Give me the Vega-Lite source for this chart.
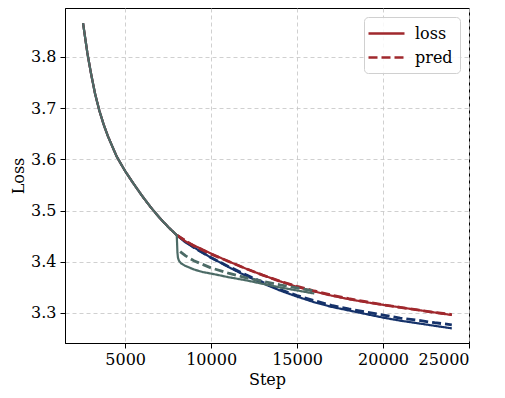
{
  "$schema": "https://vega.github.io/schema/vega-lite/v6.json",
  "width": 404,
  "height": 335,
  "autosize": {"type": "none"},
  "padding": {"left": 65, "top": 8, "right": 36, "bottom": 55},
  "config": {
    "font": "DejaVu Serif",
    "view": {"stroke": "#000", "strokeWidth": 1},
    "axis": {
      "labelFont": "DejaVu Serif", "labelFontSize": 16, "labelColor": "#000",
      "titleFont": "DejaVu Serif", "titleFontSize": 16, "titleFontWeight": "normal", "titleColor": "#000",
      "domainColor": "#000", "tickColor": "#000", "tickSize": 5, "labelPadding": 3,
      "gridColor": "#c4c4c4", "gridDash": [4, 3], "gridWidth": 0.8
    },
    "legend": {
      "orient": "top-right", "offset": 9, "symbolType": "M-2.25,0H2.25", "symbolSize": 256,
      "symbolStrokeWidth": 2.5, "symbolStrokeColor": "#a0282d", "symbolFillColor": "transparent",
      "symbolOffset": 6,
      "labelFont": "DejaVu Serif", "labelFontSize": 16, "labelColor": "#000",
      "padding": 7, "rowPadding": 6, "labelOffset": 19,
      "fillColor": "rgba(255,255,255,0.85)", "strokeColor": "#d0d0d0", "cornerRadius": 4
    }
  },
  "datasets": {
    "curves": [
      {"run": "navy", "kind": "loss", "step": 2550, "loss": 3.866},
      {"run": "navy", "kind": "loss", "step": 2800, "loss": 3.808},
      {"run": "navy", "kind": "loss", "step": 3000, "loss": 3.770},
      {"run": "navy", "kind": "loss", "step": 3250, "loss": 3.728},
      {"run": "navy", "kind": "loss", "step": 3500, "loss": 3.695},
      {"run": "navy", "kind": "loss", "step": 3750, "loss": 3.668},
      {"run": "navy", "kind": "loss", "step": 4000, "loss": 3.645},
      {"run": "navy", "kind": "loss", "step": 4500, "loss": 3.606},
      {"run": "navy", "kind": "loss", "step": 5000, "loss": 3.577},
      {"run": "navy", "kind": "loss", "step": 5500, "loss": 3.552},
      {"run": "navy", "kind": "loss", "step": 6000, "loss": 3.528},
      {"run": "navy", "kind": "loss", "step": 6500, "loss": 3.506},
      {"run": "navy", "kind": "loss", "step": 7000, "loss": 3.486},
      {"run": "navy", "kind": "loss", "step": 7500, "loss": 3.468},
      {"run": "navy", "kind": "loss", "step": 8000, "loss": 3.452},
      {"run": "navy", "kind": "loss", "step": 8500, "loss": 3.438},
      {"run": "navy", "kind": "loss", "step": 9000, "loss": 3.428},
      {"run": "navy", "kind": "loss", "step": 9500, "loss": 3.418},
      {"run": "navy", "kind": "loss", "step": 10000, "loss": 3.408},
      {"run": "navy", "kind": "loss", "step": 11000, "loss": 3.390},
      {"run": "navy", "kind": "loss", "step": 12000, "loss": 3.373},
      {"run": "navy", "kind": "loss", "step": 13000, "loss": 3.358},
      {"run": "navy", "kind": "loss", "step": 14000, "loss": 3.344},
      {"run": "navy", "kind": "loss", "step": 15000, "loss": 3.332},
      {"run": "navy", "kind": "loss", "step": 16000, "loss": 3.321},
      {"run": "navy", "kind": "loss", "step": 17000, "loss": 3.312},
      {"run": "navy", "kind": "loss", "step": 18000, "loss": 3.305},
      {"run": "navy", "kind": "loss", "step": 19000, "loss": 3.298},
      {"run": "navy", "kind": "loss", "step": 20000, "loss": 3.291},
      {"run": "navy", "kind": "loss", "step": 21000, "loss": 3.285},
      {"run": "navy", "kind": "loss", "step": 22000, "loss": 3.280},
      {"run": "navy", "kind": "loss", "step": 23000, "loss": 3.275},
      {"run": "navy", "kind": "loss", "step": 24000, "loss": 3.270},

      {"run": "navy", "kind": "pred", "step": 8000, "loss": 3.452},
      {"run": "navy", "kind": "pred", "step": 9000, "loss": 3.428},
      {"run": "navy", "kind": "pred", "step": 10000, "loss": 3.408},
      {"run": "navy", "kind": "pred", "step": 11000, "loss": 3.391},
      {"run": "navy", "kind": "pred", "step": 12000, "loss": 3.375},
      {"run": "navy", "kind": "pred", "step": 13000, "loss": 3.360},
      {"run": "navy", "kind": "pred", "step": 14000, "loss": 3.346},
      {"run": "navy", "kind": "pred", "step": 15000, "loss": 3.334},
      {"run": "navy", "kind": "pred", "step": 16000, "loss": 3.324},
      {"run": "navy", "kind": "pred", "step": 17000, "loss": 3.315},
      {"run": "navy", "kind": "pred", "step": 18000, "loss": 3.308},
      {"run": "navy", "kind": "pred", "step": 19000, "loss": 3.302},
      {"run": "navy", "kind": "pred", "step": 20000, "loss": 3.296},
      {"run": "navy", "kind": "pred", "step": 21000, "loss": 3.290},
      {"run": "navy", "kind": "pred", "step": 22000, "loss": 3.286},
      {"run": "navy", "kind": "pred", "step": 23000, "loss": 3.281},
      {"run": "navy", "kind": "pred", "step": 24000, "loss": 3.277},

      {"run": "red", "kind": "loss", "step": 2550, "loss": 3.866},
      {"run": "red", "kind": "loss", "step": 2800, "loss": 3.808},
      {"run": "red", "kind": "loss", "step": 3000, "loss": 3.770},
      {"run": "red", "kind": "loss", "step": 3250, "loss": 3.728},
      {"run": "red", "kind": "loss", "step": 3500, "loss": 3.695},
      {"run": "red", "kind": "loss", "step": 3750, "loss": 3.668},
      {"run": "red", "kind": "loss", "step": 4000, "loss": 3.645},
      {"run": "red", "kind": "loss", "step": 4500, "loss": 3.606},
      {"run": "red", "kind": "loss", "step": 5000, "loss": 3.577},
      {"run": "red", "kind": "loss", "step": 5500, "loss": 3.552},
      {"run": "red", "kind": "loss", "step": 6000, "loss": 3.528},
      {"run": "red", "kind": "loss", "step": 6500, "loss": 3.506},
      {"run": "red", "kind": "loss", "step": 7000, "loss": 3.486},
      {"run": "red", "kind": "loss", "step": 7500, "loss": 3.468},
      {"run": "red", "kind": "loss", "step": 8000, "loss": 3.452},
      {"run": "red", "kind": "loss", "step": 8500, "loss": 3.440},
      {"run": "red", "kind": "loss", "step": 9000, "loss": 3.432},
      {"run": "red", "kind": "loss", "step": 9500, "loss": 3.424},
      {"run": "red", "kind": "loss", "step": 10000, "loss": 3.416},
      {"run": "red", "kind": "loss", "step": 11000, "loss": 3.401},
      {"run": "red", "kind": "loss", "step": 12000, "loss": 3.387},
      {"run": "red", "kind": "loss", "step": 13000, "loss": 3.374},
      {"run": "red", "kind": "loss", "step": 14000, "loss": 3.362},
      {"run": "red", "kind": "loss", "step": 15000, "loss": 3.351},
      {"run": "red", "kind": "loss", "step": 16000, "loss": 3.342},
      {"run": "red", "kind": "loss", "step": 17000, "loss": 3.334},
      {"run": "red", "kind": "loss", "step": 18000, "loss": 3.327},
      {"run": "red", "kind": "loss", "step": 19000, "loss": 3.321},
      {"run": "red", "kind": "loss", "step": 20000, "loss": 3.316},
      {"run": "red", "kind": "loss", "step": 21000, "loss": 3.311},
      {"run": "red", "kind": "loss", "step": 22000, "loss": 3.306},
      {"run": "red", "kind": "loss", "step": 23000, "loss": 3.301},
      {"run": "red", "kind": "loss", "step": 24000, "loss": 3.296},

      {"run": "red", "kind": "pred", "step": 8000, "loss": 3.452},
      {"run": "red", "kind": "pred", "step": 9000, "loss": 3.431},
      {"run": "red", "kind": "pred", "step": 10000, "loss": 3.415},
      {"run": "red", "kind": "pred", "step": 11000, "loss": 3.401},
      {"run": "red", "kind": "pred", "step": 12000, "loss": 3.387},
      {"run": "red", "kind": "pred", "step": 13000, "loss": 3.374},
      {"run": "red", "kind": "pred", "step": 14000, "loss": 3.362},
      {"run": "red", "kind": "pred", "step": 15000, "loss": 3.352},
      {"run": "red", "kind": "pred", "step": 16000, "loss": 3.343},
      {"run": "red", "kind": "pred", "step": 17000, "loss": 3.335},
      {"run": "red", "kind": "pred", "step": 18000, "loss": 3.328},
      {"run": "red", "kind": "pred", "step": 19000, "loss": 3.322},
      {"run": "red", "kind": "pred", "step": 20000, "loss": 3.316},
      {"run": "red", "kind": "pred", "step": 21000, "loss": 3.311},
      {"run": "red", "kind": "pred", "step": 22000, "loss": 3.306},
      {"run": "red", "kind": "pred", "step": 23000, "loss": 3.301},
      {"run": "red", "kind": "pred", "step": 24000, "loss": 3.297},

      {"run": "green", "kind": "loss", "step": 2550, "loss": 3.866},
      {"run": "green", "kind": "loss", "step": 2800, "loss": 3.808},
      {"run": "green", "kind": "loss", "step": 3000, "loss": 3.770},
      {"run": "green", "kind": "loss", "step": 3250, "loss": 3.728},
      {"run": "green", "kind": "loss", "step": 3500, "loss": 3.695},
      {"run": "green", "kind": "loss", "step": 3750, "loss": 3.668},
      {"run": "green", "kind": "loss", "step": 4000, "loss": 3.645},
      {"run": "green", "kind": "loss", "step": 4500, "loss": 3.606},
      {"run": "green", "kind": "loss", "step": 5000, "loss": 3.577},
      {"run": "green", "kind": "loss", "step": 5500, "loss": 3.552},
      {"run": "green", "kind": "loss", "step": 6000, "loss": 3.528},
      {"run": "green", "kind": "loss", "step": 6500, "loss": 3.506},
      {"run": "green", "kind": "loss", "step": 7000, "loss": 3.486},
      {"run": "green", "kind": "loss", "step": 7500, "loss": 3.468},
      {"run": "green", "kind": "loss", "step": 8000, "loss": 3.452},
      {"run": "green", "kind": "loss", "step": 8020, "loss": 3.436},
      {"run": "green", "kind": "loss", "step": 8040, "loss": 3.418},
      {"run": "green", "kind": "loss", "step": 8070, "loss": 3.408},
      {"run": "green", "kind": "loss", "step": 8130, "loss": 3.402},
      {"run": "green", "kind": "loss", "step": 8250, "loss": 3.397},
      {"run": "green", "kind": "loss", "step": 8500, "loss": 3.392},
      {"run": "green", "kind": "loss", "step": 9000, "loss": 3.385},
      {"run": "green", "kind": "loss", "step": 9500, "loss": 3.380},
      {"run": "green", "kind": "loss", "step": 10000, "loss": 3.377},
      {"run": "green", "kind": "loss", "step": 11000, "loss": 3.370},
      {"run": "green", "kind": "loss", "step": 12000, "loss": 3.364},
      {"run": "green", "kind": "loss", "step": 13000, "loss": 3.357},
      {"run": "green", "kind": "loss", "step": 14000, "loss": 3.350},
      {"run": "green", "kind": "loss", "step": 15000, "loss": 3.344},
      {"run": "green", "kind": "loss", "step": 16000, "loss": 3.338},

      {"run": "green", "kind": "pred", "step": 8200, "loss": 3.420},
      {"run": "green", "kind": "pred", "step": 8500, "loss": 3.412},
      {"run": "green", "kind": "pred", "step": 9000, "loss": 3.402},
      {"run": "green", "kind": "pred", "step": 10000, "loss": 3.388},
      {"run": "green", "kind": "pred", "step": 11000, "loss": 3.378},
      {"run": "green", "kind": "pred", "step": 12000, "loss": 3.369},
      {"run": "green", "kind": "pred", "step": 13000, "loss": 3.362},
      {"run": "green", "kind": "pred", "step": 14000, "loss": 3.355},
      {"run": "green", "kind": "pred", "step": 15000, "loss": 3.349},
      {"run": "green", "kind": "pred", "step": 16000, "loss": 3.343}
    ]
  },
  "data": {"name": "curves"},
  "encoding": {
    "x": {
      "field": "step", "type": "quantitative",
      "scale": {"domain": [1500, 25000], "nice": false, "zero": false},
      "axis": {"title": "Step", "values": [5000, 10000, 15000, 20000, 25000], "format": "d", "titlePadding": 4}
    },
    "y": {
      "field": "loss", "type": "quantitative",
      "scale": {"domain": [3.2414, 3.8957], "nice": false, "zero": false},
      "axis": {"title": "Loss", "values": [3.3, 3.4, 3.5, 3.6, 3.7, 3.8], "format": ".1f", "titlePadding": 4, "labelPadding": 4}
    },
    "strokeDash": {
      "field": "kind", "type": "nominal",
      "scale": {"domain": ["loss", "pred"], "range": [[1, 0], [9, 4]]},
      "legend": {"title": null}
    }
  },
  "layer": [
    {"transform": [{"filter": "datum.run === 'navy' && datum.kind === 'loss'"}],
     "mark": {"type": "line", "stroke": "#15326a", "strokeWidth": 2.2}},
    {"transform": [{"filter": "datum.run === 'navy' && datum.kind === 'pred'"}],
     "mark": {"type": "line", "stroke": "#15326a", "strokeWidth": 2.8}},
    {"transform": [{"filter": "datum.run === 'red' && datum.kind === 'loss'"}],
     "mark": {"type": "line", "stroke": "#a0282d", "strokeWidth": 2.2}},
    {"transform": [{"filter": "datum.run === 'red' && datum.kind === 'pred'"}],
     "mark": {"type": "line", "stroke": "#a0282d", "strokeWidth": 2.8}},
    {"transform": [{"filter": "datum.run === 'green' && datum.kind === 'loss'"}],
     "mark": {"type": "line", "stroke": "#4c6b66", "strokeWidth": 2.2}},
    {"transform": [{"filter": "datum.run === 'green' && datum.kind === 'pred'"}],
     "mark": {"type": "line", "stroke": "#4c6b66", "strokeWidth": 2.8}}
  ]
}
